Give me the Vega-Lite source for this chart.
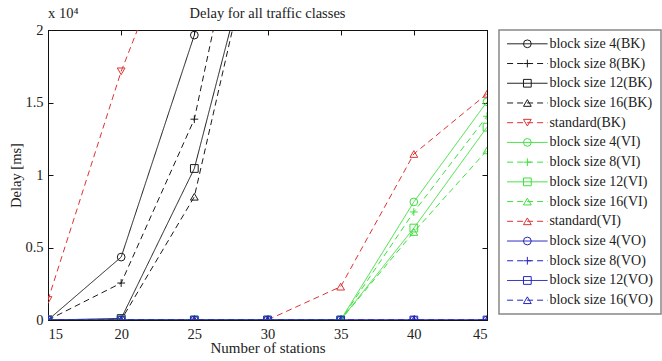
{
  "$schema": "https://vega.github.io/schema/vega-lite/v6.json",
  "padding": {"left": 8, "top": 5, "right": 2, "bottom": 2},
  "bounds": "flush",
  "spacing": 12,
  "datasets": {
    "d": [
      {"series": "block size 4(BK)", "station": 15, "delay": 0},
      {"series": "block size 4(BK)", "station": 20, "delay": 4340},
      {"series": "block size 4(BK)", "station": 25, "delay": 19650},
      {"series": "block size 4(BK)", "station": 30, "delay": 45000},
      {"series": "block size 8(BK)", "station": 15, "delay": 0},
      {"series": "block size 8(BK)", "station": 20, "delay": 2550},
      {"series": "block size 8(BK)", "station": 25, "delay": 13850},
      {"series": "block size 8(BK)", "station": 30, "delay": 37600},
      {"series": "block size 12(BK)", "station": 15, "delay": 0},
      {"series": "block size 12(BK)", "station": 20, "delay": 100},
      {"series": "block size 12(BK)", "station": 25, "delay": 10450},
      {"series": "block size 12(BK)", "station": 30, "delay": 30000},
      {"series": "block size 16(BK)", "station": 15, "delay": 0},
      {"series": "block size 16(BK)", "station": 20, "delay": 0},
      {"series": "block size 16(BK)", "station": 25, "delay": 8500},
      {"series": "block size 16(BK)", "station": 30, "delay": 30600},
      {"series": "standard(BK)", "station": 15, "delay": 1380},
      {"series": "standard(BK)", "station": 20, "delay": 17150},
      {"series": "standard(BK)", "station": 25, "delay": 30000},
      {"series": "block size 4(VI)", "station": 15, "delay": 0},
      {"series": "block size 4(VI)", "station": 20, "delay": 0},
      {"series": "block size 4(VI)", "station": 25, "delay": 0},
      {"series": "block size 4(VI)", "station": 30, "delay": 0},
      {"series": "block size 4(VI)", "station": 35, "delay": 0},
      {"series": "block size 4(VI)", "station": 40, "delay": 8140},
      {"series": "block size 4(VI)", "station": 45, "delay": 15050},
      {"series": "block size 8(VI)", "station": 15, "delay": 0},
      {"series": "block size 8(VI)", "station": 20, "delay": 0},
      {"series": "block size 8(VI)", "station": 25, "delay": 0},
      {"series": "block size 8(VI)", "station": 30, "delay": 0},
      {"series": "block size 8(VI)", "station": 35, "delay": 0},
      {"series": "block size 8(VI)", "station": 40, "delay": 7450},
      {"series": "block size 8(VI)", "station": 45, "delay": 14050},
      {"series": "block size 12(VI)", "station": 15, "delay": 0},
      {"series": "block size 12(VI)", "station": 20, "delay": 0},
      {"series": "block size 12(VI)", "station": 25, "delay": 0},
      {"series": "block size 12(VI)", "station": 30, "delay": 0},
      {"series": "block size 12(VI)", "station": 35, "delay": 0},
      {"series": "block size 12(VI)", "station": 40, "delay": 6340},
      {"series": "block size 12(VI)", "station": 45, "delay": 13300},
      {"series": "block size 16(VI)", "station": 15, "delay": 0},
      {"series": "block size 16(VI)", "station": 20, "delay": 0},
      {"series": "block size 16(VI)", "station": 25, "delay": 0},
      {"series": "block size 16(VI)", "station": 30, "delay": 0},
      {"series": "block size 16(VI)", "station": 35, "delay": 0},
      {"series": "block size 16(VI)", "station": 40, "delay": 6070},
      {"series": "block size 16(VI)", "station": 45, "delay": 11700},
      {"series": "standard(VI)", "station": 15, "delay": 0},
      {"series": "standard(VI)", "station": 20, "delay": 0},
      {"series": "standard(VI)", "station": 25, "delay": 0},
      {"series": "standard(VI)", "station": 30, "delay": 0},
      {"series": "standard(VI)", "station": 35, "delay": 2300},
      {"series": "standard(VI)", "station": 40, "delay": 11450},
      {"series": "standard(VI)", "station": 45, "delay": 15600},
      {"series": "block size 4(VO)", "station": 15, "delay": 0},
      {"series": "block size 4(VO)", "station": 20, "delay": 0},
      {"series": "block size 4(VO)", "station": 25, "delay": 0},
      {"series": "block size 4(VO)", "station": 30, "delay": 0},
      {"series": "block size 4(VO)", "station": 35, "delay": 0},
      {"series": "block size 4(VO)", "station": 40, "delay": 0},
      {"series": "block size 4(VO)", "station": 45, "delay": 0},
      {"series": "block size 8(VO)", "station": 15, "delay": 0},
      {"series": "block size 8(VO)", "station": 20, "delay": 0},
      {"series": "block size 8(VO)", "station": 25, "delay": 0},
      {"series": "block size 8(VO)", "station": 30, "delay": 0},
      {"series": "block size 8(VO)", "station": 35, "delay": 0},
      {"series": "block size 8(VO)", "station": 40, "delay": 0},
      {"series": "block size 8(VO)", "station": 45, "delay": 0},
      {"series": "block size 12(VO)", "station": 15, "delay": 0},
      {"series": "block size 12(VO)", "station": 20, "delay": 0},
      {"series": "block size 12(VO)", "station": 25, "delay": 0},
      {"series": "block size 12(VO)", "station": 30, "delay": 0},
      {"series": "block size 12(VO)", "station": 35, "delay": 0},
      {"series": "block size 12(VO)", "station": 40, "delay": 0},
      {"series": "block size 12(VO)", "station": 45, "delay": 0},
      {"series": "block size 16(VO)", "station": 15, "delay": 0},
      {"series": "block size 16(VO)", "station": 20, "delay": 0},
      {"series": "block size 16(VO)", "station": 25, "delay": 0},
      {"series": "block size 16(VO)", "station": 30, "delay": 0},
      {"series": "block size 16(VO)", "station": 35, "delay": 0},
      {"series": "block size 16(VO)", "station": 40, "delay": 0},
      {"series": "block size 16(VO)", "station": 45, "delay": 0}
    ],
    "leg": [
      {"series": "block size 4(BK)", "order": 1},
      {"series": "block size 8(BK)", "order": 2},
      {"series": "block size 12(BK)", "order": 3},
      {"series": "block size 16(BK)", "order": 4},
      {"series": "standard(BK)", "order": 5},
      {"series": "block size 4(VI)", "order": 6},
      {"series": "block size 8(VI)", "order": 7},
      {"series": "block size 12(VI)", "order": 8},
      {"series": "block size 16(VI)", "order": 9},
      {"series": "standard(VI)", "order": 10},
      {"series": "block size 4(VO)", "order": 11},
      {"series": "block size 8(VO)", "order": 12},
      {"series": "block size 12(VO)", "order": 13},
      {"series": "block size 16(VO)", "order": 14}
    ],
    "titles": [{"t": "Delay for all traffic classes"}],
    "mult": [{"t": "x 10⁴"}]
  },
  "hconcat": [
    {
      "width": 439,
      "height": 290,
      "view": {"stroke": "#111", "strokeWidth": 1},
      "resolve": {"axis": {"x": "independent", "y": "independent"}},
      "layer": [
        {
          "data": {"name": "d"},
          "mark": {"type": "line", "clip": true, "strokeWidth": 1},
          "encoding": {
            "x": {"field": "station", "type": "quantitative", "scale": {"domain": [15, 45], "nice": false, "zero": false},
              "axis": {"orient": "bottom", "values": [15, 20, 25, 30, 35, 40, 45], "grid": false, "tickSize": -5, "labelPadding": 12, "tickColor": "#111", "domainColor": "#111", "labelFont": "Liberation Serif", "labelFontSize": 14.5, "labelColor": "#222", "title": "Number of stations", "titleFont": "Liberation Serif", "titleFontSize": 15, "titleFontWeight": "normal", "titleColor": "#222", "titlePadding": 0}},
            "y": {"field": "delay", "type": "quantitative", "scale": {"domain": [0, 20000], "nice": false},
              "axis": {"orient": "left", "values": [0, 5000, 10000, 15000, 20000], "labelExpr": "datum.value / 10000 + ''", "grid": false, "tickSize": -5, "labelPadding": 10, "tickColor": "#111", "domainColor": "#111", "labelFont": "Liberation Serif", "labelFontSize": 14.5, "labelColor": "#222", "title": "Delay [ms]", "titleFont": "Liberation Serif", "titleFontSize": 14.5, "titleFontWeight": "normal", "titleColor": "#222", "titlePadding": 1}},
            "color": {"field": "series", "type": "nominal", "legend": null,
              "scale": {"domain": ["block size 4(BK)", "block size 8(BK)", "block size 12(BK)", "block size 16(BK)", "standard(BK)", "block size 4(VI)", "block size 8(VI)", "block size 12(VI)", "block size 16(VI)", "standard(VI)", "block size 4(VO)", "block size 8(VO)", "block size 12(VO)", "block size 16(VO)"],
                "range": ["#1a1a1a", "#1a1a1a", "#1a1a1a", "#1a1a1a", "#dd3333", "#3ee03e", "#3ee03e", "#3ee03e", "#3ee03e", "#dd3333", "#2626c0", "#2626c0", "#2626c0", "#2626c0"]}},
            "strokeDash": {"field": "series", "type": "nominal", "legend": null,
              "scale": {"domain": ["block size 4(BK)", "block size 8(BK)", "block size 12(BK)", "block size 16(BK)", "standard(BK)", "block size 4(VI)", "block size 8(VI)", "block size 12(VI)", "block size 16(VI)", "standard(VI)", "block size 4(VO)", "block size 8(VO)", "block size 12(VO)", "block size 16(VO)"],
                "range": [[1, 0], [6, 4], [1, 0], [6, 4], [6, 4], [1, 0], [6, 4], [1, 0], [6, 4], [6, 4], [1, 0], [6, 4], [1, 0], [6, 4]]}}
          }
        },
        {
          "data": {"name": "d"},
          "mark": {"type": "point", "clip": true, "filled": false, "strokeWidth": 1, "size": 60, "opacity": 1},
          "encoding": {
            "x": {"field": "station", "type": "quantitative", "axis": {"orient": "top", "values": [15, 20, 25, 30, 35, 40, 45], "labels": false, "title": null, "grid": false, "tickSize": -5, "tickColor": "#111", "domainColor": "#111"}},
            "y": {"field": "delay", "type": "quantitative", "axis": {"orient": "right", "values": [0, 5000, 10000, 15000, 20000], "labels": false, "title": null, "grid": false, "tickSize": -5, "tickColor": "#111", "domainColor": "#111"}},
            "color": {"field": "series", "type": "nominal", "legend": null},
            "shape": {"field": "series", "type": "nominal", "legend": null,
              "scale": {"domain": ["block size 4(BK)", "block size 8(BK)", "block size 12(BK)", "block size 16(BK)", "standard(BK)", "block size 4(VI)", "block size 8(VI)", "block size 12(VI)", "block size 16(VI)", "standard(VI)", "block size 4(VO)", "block size 8(VO)", "block size 12(VO)", "block size 16(VO)"],
                "range": ["circle", "M-1,0H1M0,-1V1", "square", "triangle-up", "triangle-down", "circle", "M-1,0H1M0,-1V1", "square", "triangle-up", "triangle-up", "circle", "M-1,0H1M0,-1V1", "square", "triangle-up"]}}
          }
        },
        {
          "data": {"name": "titles"},
          "mark": {"type": "text", "font": "Liberation Serif", "fontSize": 14.5, "color": "#222", "baseline": "middle", "align": "center", "dy": -16},
          "encoding": {
            "x": {"datum": 30, "type": "quantitative", "axis": null},
            "y": {"datum": 20000, "type": "quantitative", "axis": null},
            "text": {"field": "t"}
          }
        },
        {
          "data": {"name": "mult"},
          "mark": {"type": "text", "font": "Liberation Serif", "fontSize": 14.5, "color": "#222", "baseline": "middle", "align": "left", "dy": -16},
          "encoding": {
            "x": {"datum": 15, "type": "quantitative", "axis": null},
            "y": {"datum": 20000, "type": "quantitative", "axis": null},
            "text": {"field": "t"}
          }
        }
      ]
    },
    {
      "width": 162,
      "height": 284,
      "view": {"stroke": "#888", "strokeWidth": 1.5},
      "data": {"name": "leg"},
      "encoding": {
        "y": {"field": "order", "type": "ordinal", "axis": null, "scale": {"type": "point", "padding": 0.7}}
      },
      "layer": [
        {
          "mark": {"type": "rule", "strokeWidth": 1},
          "encoding": {
            "x": {"datum": 9, "type": "quantitative", "scale": {"domain": [0, 162]}, "axis": null},
            "x2": {"datum": 54},
            "color": {"field": "series", "type": "nominal", "legend": null},
            "strokeDash": {"field": "series", "type": "nominal", "legend": null}
          }
        },
        {
          "mark": {"type": "point", "filled": false, "strokeWidth": 1, "size": 60, "opacity": 1},
          "encoding": {
            "x": {"datum": 31.5, "type": "quantitative", "axis": null},
            "color": {"field": "series", "type": "nominal", "legend": null},
            "shape": {"field": "series", "type": "nominal", "legend": null}
          }
        },
        {
          "mark": {"type": "text", "align": "left", "baseline": "middle", "font": "Liberation Serif", "fontSize": 14, "color": "#222"},
          "encoding": {
            "x": {"datum": 56, "type": "quantitative", "axis": null},
            "text": {"field": "series"}
          }
        }
      ]
    }
  ]
}
